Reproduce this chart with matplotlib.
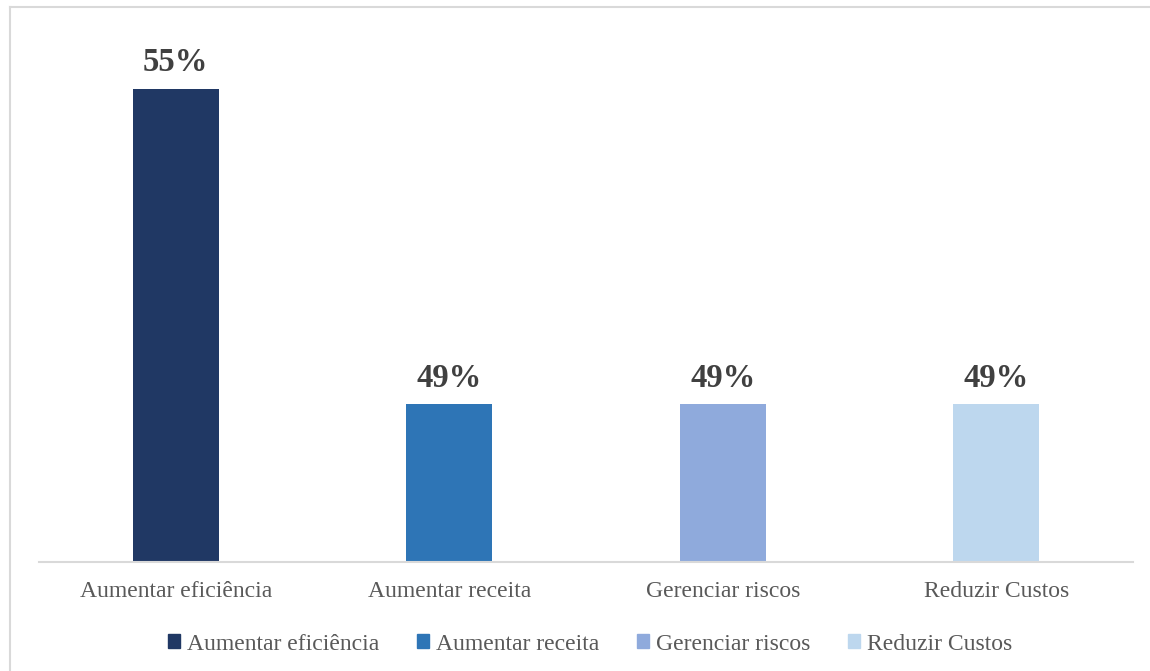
import matplotlib
matplotlib.use('Agg')
import matplotlib.pyplot as plt
from matplotlib.lines import Line2D
from matplotlib.patches import Patch

categories = ['Aumentar eficiência', 'Aumentar receita', 'Gerenciar riscos', 'Reduzir Custos']
values = [55, 49, 49, 49]
colors = ['#203864', '#2E75B6', '#8FAADC', '#BDD7EE']

plt.rcParams['font.family'] = ['Liberation Serif', 'DejaVu Serif']

W, H = 1150, 671
fig = plt.figure(figsize=(W / 100, H / 100), dpi=100)
ax = fig.add_axes([39 / W, 1 - 562 / H, (1133 - 39) / W, (562 - 36) / H])

x = list(range(len(categories)))
bars = ax.bar(x, values, width=0.315, color=colors)
ax.set_xlim(-0.5, len(categories) - 0.5)
ax.set_ylim(46, 56)

for b, v in zip(bars, values):
    ax.annotate(f'{v}%', (b.get_x() + b.get_width() / 2, v),
                xytext=(0, 7.5), textcoords='offset points',
                ha='center', va='bottom', fontsize=23.5, fontweight='bold',
                color='#404040')

ax.set_xticks(x)
ax.set_xticklabels(categories, fontsize=17, color='#595959')
ax.tick_params(axis='x', length=0, pad=14)
ax.set_yticks([])
for s in ['top', 'right', 'left']:
    ax.spines[s].set_visible(False)
ax.spines['bottom'].set_color('#D9D9D9')
ax.spines['bottom'].set_linewidth(1.5)

handles = [Patch(color=c, label=l) for c, l in zip(colors, categories)]
leg = fig.legend(handles=handles, loc='center', bbox_to_anchor=(590 / W, 1 - 644 / H),
                 ncol=4, frameon=False, fontsize=17, handlelength=0.5,
                 handleheight=0.5, handletextpad=0.3, columnspacing=1.6)
for t in leg.get_texts():
    t.set_color('#595959')

# outer chart frame
fig.add_artist(Line2D([10 / W, 10 / W], [0, 1 - 7 / H], color='#D9D9D9', lw=1.5))
fig.add_artist(Line2D([10 / W, 1], [1 - 7 / H, 1 - 7 / H], color='#D9D9D9', lw=1.5))

fig.savefig('out.png', dpi=100)
